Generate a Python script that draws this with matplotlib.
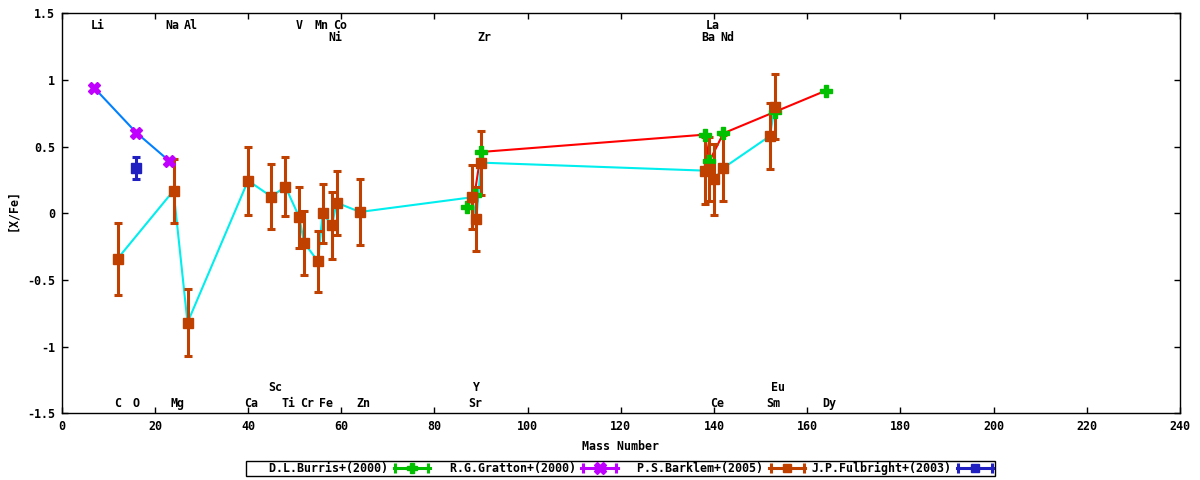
import matplotlib
matplotlib.use('Agg')
import matplotlib.pyplot as plt
from matplotlib.lines import Line2D
from matplotlib.legend_handler import HandlerBase
from matplotlib.container import ErrorbarContainer
from matplotlib.ticker import FuncFormatter, MultipleLocator

plt.rcParams['font.family'] = ['DejaVu Sans Mono']
plt.rcParams['font.weight'] = 'bold'
plt.rcParams['axes.unicode_minus'] = False

# ---------------- data ----------------
burris_mass = [87, 88.6, 90, 138, 139, 142, 153, 164]
burris_val = [0.05, 0.14, 0.46, 0.59, 0.39, 0.60, 0.76, 0.92]
burris_err = [0, 0, 0, 0, 0, 0, 0, 0]

gratton_mass = [7, 16, 23]
gratton_val = [0.94, 0.605, 0.395]
gratton_err = [0, 0, 0]

barklem_mass = [12, 24, 27, 40, 45, 48, 51, 52, 55, 56, 58, 59, 64,
                88, 89, 90, 138, 139, 140, 142, 152, 153]
barklem_val = [-0.34, 0.17, -0.82, 0.245, 0.125, 0.20, -0.03, -0.22, -0.36,
               0.0, -0.09, 0.08, 0.01, 0.12, -0.04, 0.38, 0.32, 0.33, 0.255,
               0.34, 0.58, 0.80]
barklem_err = [0.27, 0.24, 0.25, 0.255, 0.245, 0.22, 0.23, 0.24, 0.23, 0.22,
               0.25, 0.24, 0.25, 0.24, 0.24, 0.24, 0.25, 0.24, 0.265, 0.25,
               0.25, 0.245]

fulbright_mass = [16]
fulbright_val = [0.34]
fulbright_err = [0.08]

series_labels = ['D.L.Burris+(2000)', 'R.G.Gratton+(2000)',
                 'P.S.Barklem+(2005)', 'J.P.Fulbright+(2003)']

top_names = ['Li', 'Na', 'Al', 'V', 'Mn', 'Co', 'Ni', 'Zr', 'La', 'Ba', 'Nd']
top_mass = [7, 23, 27, 51, 55, 59, 58, 90, 139, 138, 142]
top_level = [0, 0, 0, 0, 0, 0, 1, 1, 0, 1, 1]

bottom_names = ['C', 'O', 'Mg', 'Ca', 'Sc', 'Ti', 'Cr', 'Fe', 'Zn', 'Y', 'Sr',
                'Ce', 'Eu', 'Sm', 'Dy']
bottom_mass = [12, 16, 24, 40, 45, 48, 52, 56, 64, 89, 88, 140, 153, 152, 164]
bottom_level = [0, 0, 0, 0, 1, 0, 0, 0, 0, 1, 0, 0, 1, 0, 0]

# ---------------- figure ----------------
W, H = 1200, 480
fig = plt.figure(figsize=(12, 4.8), dpi=100)
ax = fig.add_axes([61.7 / W, 1 - 413.3 / H, (1180 - 61.7) / W, 400 / H])

FS = 8.4
lw_line = 1.5
ebkw = dict(elinewidth=2.2, capsize=3.0, capthick=2.2)

ax.plot(burris_mass, burris_val, color='#ff0000', lw=lw_line)
eb1 = ax.errorbar(burris_mass, burris_val, yerr=burris_err, fmt='P', ms=8,
                  color='#00c000', mec='#00c000', elinewidth=2.2, capsize=0)
ax.plot(gratton_mass, gratton_val, color='#0080ff', lw=lw_line)
eb2 = ax.errorbar(gratton_mass, gratton_val, yerr=gratton_err, fmt='X', ms=9,
                  color='#c000ff', elinewidth=2.2, capsize=0)
ax.plot(barklem_mass, barklem_val, color='#00eeee', lw=lw_line)
eb3 = ax.errorbar(barklem_mass, barklem_val, yerr=barklem_err, fmt='s', ms=7,
                  color='#c04000', **ebkw)
eb4 = ax.errorbar(fulbright_mass, fulbright_val, yerr=fulbright_err, fmt='s',
                  ms=6.5, color='#2020c0', **ebkw)

ax.set_xlim(0, 240)
ax.set_ylim(-1.5, 1.5)
ax.xaxis.set_major_locator(MultipleLocator(20))
ax.yaxis.set_major_locator(MultipleLocator(0.5))
ax.yaxis.set_major_formatter(FuncFormatter(lambda v, p: ('%g' % v)))
ax.tick_params(direction='in', length=4, width=1, top=True, right=True,
               labelsize=FS, pad=5)
for s in ax.spines.values():
    s.set_linewidth(1)
    s.set_color('black')

ax.set_xlabel('Mass Number', fontsize=FS, fontweight='bold', va='center')
ax.xaxis.set_label_coords(0.5, (413.3 - 447) / 400)
ax.set_ylabel('[X/Fe]', fontsize=FS, fontweight='bold', va='center')
ax.yaxis.set_label_coords((12.7 - 61.7) / (1180 - 61.7), (413.3 - 210) / 400)

top_rows = [1.405, 1.315]
for n, m, lv in zip(top_names, top_mass, top_level):
    ax.annotate(n, xy=(m, top_rows[lv]), xytext=(-2.5, 0),
                textcoords='offset points', ha='left', va='center',
                fontsize=FS, fontweight='bold')
bottom_rows = [-1.425, -1.305]
for n, m, lv in zip(bottom_names, bottom_mass, bottom_level):
    ax.annotate(n, xy=(m, bottom_rows[lv]), xytext=(-2.5, 0),
                textcoords='offset points', ha='left', va='center',
                fontsize=FS, fontweight='bold')


class ErrSample(HandlerBase):
    def create_artists(self, legend, orig_handle, xdescent, ydescent, width,
                       height, fontsize, trans):
        dl = orig_handle.lines[0]
        c = dl.get_color()
        y = height / 2 - ydescent
        x0, x1 = -xdescent, width - xdescent
        line = Line2D([x0, x1], [y, y], color=c, lw=2.2)
        caps = Line2D([x0 + 1, x1 - 1], [y, y], ls='none', marker='|', ms=7,
                      mew=2.2, color=c)
        mk = Line2D([(x0 + x1) / 2], [y], ls='none', marker=dl.get_marker(),
                    ms=dl.get_markersize() * 0.9, color=c, mec=c)
        arts = [line, caps, mk]
        for a in arts:
            a.set_transform(trans)
        return arts


width = max(len(s) for s in series_labels)
leg = fig.legend(handles=[eb1, eb2, eb3, eb4],
                 labels=[s.rjust(width) for s in series_labels],
                 loc='center', bbox_to_anchor=(620.5 / W, 1 - 468.5 / H),
                 ncol=4, markerfirst=False, frameon=True, fancybox=False,
                 edgecolor='black', framealpha=1, borderpad=0.12,
                 handlelength=3.1, handletextpad=0.5, columnspacing=0.5,
                 fontsize=FS, handler_map={ErrorbarContainer: ErrSample()},
                 borderaxespad=0)
leg.get_frame().set_linewidth(1)

fig.savefig('out.png', dpi=100)
